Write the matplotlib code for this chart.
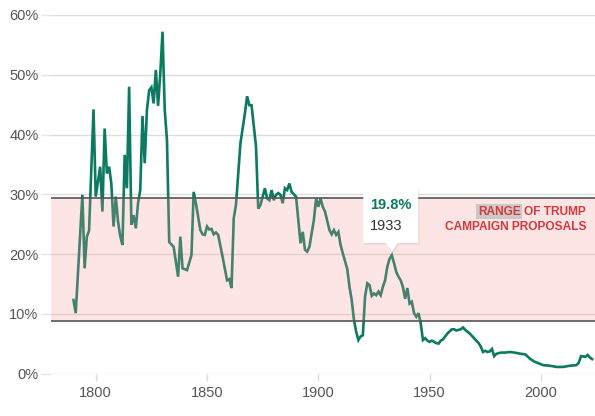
import matplotlib
matplotlib.use("Agg")
import matplotlib.pyplot as plt
import matplotlib.transforms as mtransforms
from matplotlib.patches import Polygon

# average tariff rate
years = [1790, 1791, 1794, 1795, 1796, 1797, 1799, 1800, 1802, 1803, 1804, 1805, 1806, 1807,
         1808, 1809, 1810, 1811, 1812, 1813, 1814, 1815, 1816, 1817, 1818, 1819, 1820, 1821,
         1822, 1823, 1824, 1825, 1826, 1827, 1828, 1829, 1830, 1831, 1832, 1833, 1835, 1837,
         1838, 1839, 1841, 1843, 1844, 1845, 1847, 1848, 1849, 1850, 1851, 1852, 1853, 1854,
         1855, 1857, 1859, 1860, 1861, 1862, 1863, 1865, 1867, 1868, 1869, 1870, 1872, 1873,
         1874, 1876, 1877, 1878, 1879, 1880, 1881, 1882, 1883, 1884, 1885, 1886, 1887, 1888,
         1890, 1891, 1892, 1893, 1894, 1895, 1896, 1898, 1899, 1900, 1901, 1902, 1903, 1905,
         1906, 1907, 1908, 1909, 1910, 1911, 1913, 1914, 1915, 1916, 1917, 1918, 1919, 1920,
         1921, 1922, 1923, 1924, 1925, 1926, 1927, 1928, 1929, 1930, 1931, 1932, 1933, 1934,
         1935, 1936, 1937, 1938, 1939, 1940, 1941, 1942, 1943, 1944, 1945, 1946, 1947, 1948,
         1949, 1950, 1951, 1952, 1953, 1954, 1955, 1956, 1958, 1960, 1961, 1962, 1963, 1964,
         1965, 1966, 1968, 1970, 1972, 1973, 1974, 1975, 1976, 1977, 1978, 1979, 1980, 1982,
         1984, 1986, 1988, 1991, 1993, 1995, 1997, 1999, 2001, 2004, 2007, 2010, 2013, 2016,
         2017, 2018, 2020, 2021, 2022, 2023]
rates = [12.3, 10.1, 29.9, 17.6, 22.9, 23.9, 44.2, 29.6, 34.6, 27.1, 41.0, 33.5, 34.6, 31.8,
         24.6, 29.6, 25.5, 23.0, 21.5, 36.6, 31.0, 48.0, 24.9, 26.5, 24.3, 28.5, 30.7, 43.1,
         35.2, 44.1, 47.4, 47.9, 45.2, 50.8, 44.8, 50.2, 57.2, 44.1, 39.1, 22.0, 21.2, 16.2,
         22.9, 17.6, 17.3, 19.8, 30.4, 28.5, 24.0, 23.3, 23.2, 24.6, 24.1, 24.2, 23.3, 23.6,
         23.2, 19.5, 15.6, 15.8, 14.3, 26.0, 28.2, 38.5, 43.5, 46.4, 44.9, 44.9, 38.0, 27.6,
         28.2, 31.0, 29.3, 29.0, 30.7, 29.0, 29.9, 30.2, 29.9, 28.5, 31.0, 30.7, 31.8, 30.4,
         29.6, 25.7, 21.8, 23.7, 20.7, 20.4, 21.2, 25.7, 29.3, 27.9, 29.3, 27.9, 27.1, 24.0,
         23.3, 24.0, 23.2, 23.7, 21.5, 20.1, 17.5, 14.5, 12.3, 9.0, 7.0, 5.6, 6.2, 6.4,
         12.9, 15.1, 14.8, 13.0, 13.4, 13.1, 13.7, 13.1, 14.5, 15.6, 17.9, 19.2, 19.8, 18.5,
         17.0, 16.2, 15.6, 14.5, 12.5, 14.3, 11.7, 12.0, 10.1, 9.5, 10.1, 8.4, 5.6, 5.9,
         5.5, 5.3, 5.5, 5.3, 5.1, 5.0, 5.5, 5.7, 6.7, 7.4, 7.4, 7.2, 7.3, 7.4,
         7.7, 7.3, 6.7, 5.9, 5.1, 4.5, 3.6, 3.8, 3.6, 3.7, 4.1, 2.9, 3.3, 3.5,
         3.5, 3.6, 3.5, 3.3, 3.2, 2.5, 2.0, 1.7, 1.4, 1.3, 1.1, 1.1, 1.3, 1.4,
         1.8, 2.9, 2.8, 3.1, 2.7, 2.4]

band_low, band_high = 8.85, 29.3
peak_year, peak_rate = 1933, 19.8
xticks = [1800, 1850, 1900, 1950, 2000]
yticks = [0, 10, 20, 30, 40, 50, 60]

plt.rcParams['font.family'] = ['Liberation Sans', 'DejaVu Sans']

fig = plt.figure(figsize=(5.95, 4.16), dpi=100)
ax = fig.add_axes([51 / 595, 42.5 / 416, 544 / 595, 358.5 / 416])

green = '#0a7a60'
ax.plot(years, rates, color=green, lw=1.9, zorder=3, solid_joinstyle='miter')

# pink band drawn on top of the line, so the line looks paler inside it
ax.axhspan(band_low, band_high, color='#f89b9b', alpha=0.25, lw=0, zorder=4)
ax.axhline(band_high, color='#555555', lw=1.2, zorder=5)
ax.axhline(band_low, color='#555555', lw=1.2, zorder=5)

ax.set_xlim(1779.9, 2024.3)
ax.set_ylim(0, 60)
ax.set_xticks(xticks)
ax.set_yticks(yticks)
ax.set_yticklabels(['{}%'.format(v) for v in yticks])
ax.grid(axis='y', color='#dcdcdc', lw=1, zorder=1)
for s in ax.spines.values():
    s.set_visible(False)
ax.tick_params(axis='y', length=7, color='#e4e4e4', width=1, pad=2,
               labelsize=10.5, labelcolor='#555555')
ax.tick_params(axis='x', length=5, color='#dcdcdc', width=1, pad=4,
               labelsize=10.5, labelcolor='#555555')

# band label
red = '#d8383c'
t1 = ax.text(0.9835, 0.4513, 'OF TRUMP', transform=ax.transAxes, ha='right', va='center',
             color=red, fontsize=8.6, fontweight='bold', zorder=6)
ax.annotate('RANGE', xy=(0, 0.5), xycoords=t1, xytext=(-2.6, 0), textcoords='offset points',
            ha='right', va='center', color=red, fontsize=8.6, fontweight='bold', zorder=6,
            bbox=dict(boxstyle='square,pad=0.12', fc='#c9c9c9', ec='none'))
ax.text(0.9835, 0.4078, 'CAMPAIGN PROPOSALS', transform=ax.transAxes, ha='right', va='center',
        color=red, fontsize=8.6, fontweight='bold', zorder=6)

# tooltip for the 1933 point, offsets in inches from the point
tt = fig.dpi_scale_trans + mtransforms.ScaledTranslation(peak_year, peak_rate, ax.transData)
box = [(-0.285, 0.122), (-0.06, 0.122), (0.0, 0.035), (0.06, 0.122), (0.265, 0.122),
       (0.265, 0.685), (-0.285, 0.685)]
shadow = Polygon([(x + 0.01, y - 0.015) for x, y in box], closed=True, transform=tt,
                 fc='#000000', alpha=0.08, ec='none', zorder=7)
fig.add_artist(shadow)
fig.add_artist(Polygon(box, closed=True, transform=tt, fc='white', ec='none', zorder=8))
fig.text(-0.218, 0.505, '{}%'.format(peak_rate), transform=tt, ha='left', va='center',
         color=green, fontsize=10.5, fontweight='bold', zorder=9)
fig.text(-0.218, 0.295, str(peak_year), transform=tt, ha='left', va='center',
         color='#333333', fontsize=10.5, zorder=9)

fig.savefig('out.png', dpi=100)
